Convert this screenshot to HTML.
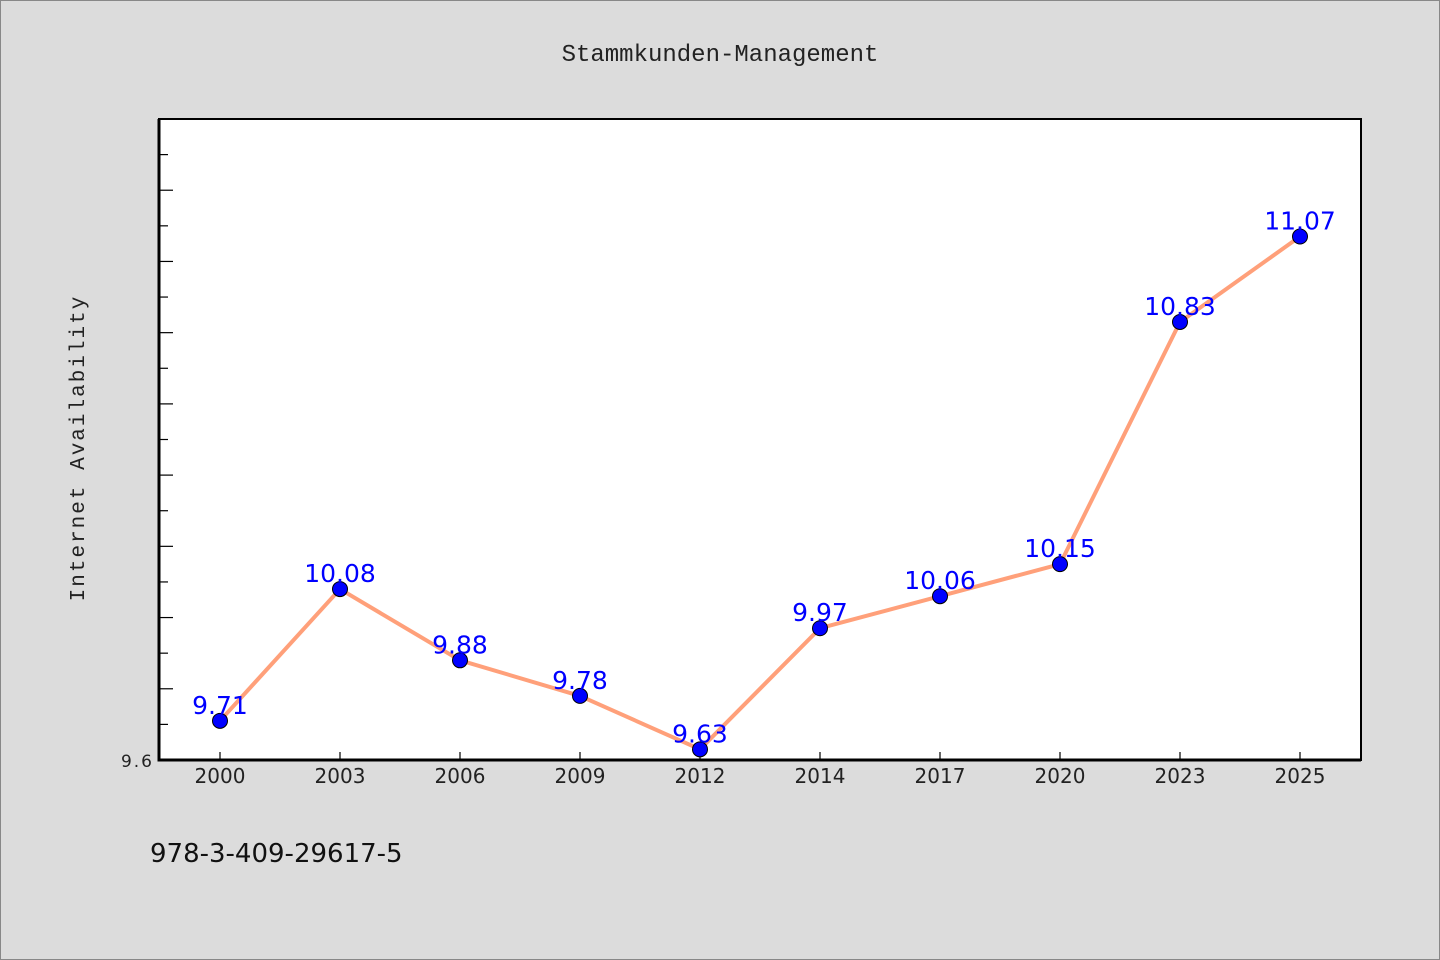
<!DOCTYPE html>
<html><head><meta charset="utf-8"><style>
body{margin:0;background:#dcdcdc;}
svg{display:block}
</style></head><body>
<svg width="1440" height="960" xmlns="http://www.w3.org/2000/svg">
<rect x="0.5" y="0.5" width="1439" height="959" fill="#dcdcdc" stroke="#888"/>
<text x="720" y="61" text-anchor="middle" font-family="Liberation Mono, monospace" font-size="24" fill="#222">Stammkunden-Management</text>
<rect x="159" y="119" width="1202" height="641" fill="#fff" stroke="#000" stroke-width="2"/>
<g id="ticks"></g>
<g id="marks"></g>
<line x1="159" y1="119" x2="159" y2="761.5" stroke="#000" stroke-width="3"/>
<line x1="157.5" y1="760" x2="1361" y2="760" stroke="#000" stroke-width="3"/>
<text x="154" y="767" text-anchor="end" font-family="DejaVu Sans, sans-serif" font-size="17" letter-spacing="2" fill="#222">9.6</text>
<text transform="translate(84,448) rotate(-90)" text-anchor="middle" font-family="Liberation Mono, monospace" font-size="21" letter-spacing="2" fill="#222">Internet Availability</text>
<text x="150" y="862" font-family="DejaVu Sans, sans-serif" font-size="26" fill="#111">978-3-409-29617-5</text>
<script>
const categories=["2000","2003","2006","2009","2012","2014","2017","2020","2023","2025"];
const values=[9.71,10.08,9.88,9.78,9.63,9.97,10.06,10.15,10.83,11.07];
const yMin=9.6, yMax=11.4;
const ns="http://www.w3.org/2000/svg";
const L=159,R=1361,T=119,B=760;
function xPos(i){return 220+i*(1300-220)/(categories.length-1);}
function yPos(v){return B-(v-yMin)/(yMax-yMin)*(B-T);}
function mk(t,a,p){const e=document.createElementNS(ns,t);for(const k in a)e.setAttribute(k,a[k]);p.appendChild(e);return e;}
const tg=document.getElementById('ticks'), mg=document.getElementById('marks');
for(let k=1;k<=17;k++){const v=yMin+k*0.1;const y=yPos(v);
 const l=mk('line',{x1:L,x2:L+(k%2===0?14:9),y1:y,y2:y,stroke:'#000','stroke-width':1.2},tg);
 
 }
categories.forEach((c,i)=>{const x=xPos(i);
 const l=mk('line',{x1:x,x2:x,y1:B,y2:B-8,stroke:'#000','stroke-width':1.2},tg);
 
 
 const t=mk('text',{x:x,y:783,'text-anchor':'middle','font-family':'DejaVu Sans, sans-serif','font-size':20,fill:'#222'},tg);
 t.textContent=c;
 
 });
const pts=values.map((v,i)=>xPos(i)+','+yPos(v)).join(' ');
const pl=mk('polyline',{points:pts,fill:'none',stroke:'#ffa07a','stroke-width':4,'stroke-linejoin':'round'},mg);


values.forEach((v,i)=>{const x=xPos(i),y=yPos(v);
 const c=mk('circle',{cx:x,cy:y,r:7.5,fill:'#0000ff',stroke:'#000','stroke-width':1},mg);
 
 
 const t=mk('text',{x:x,y:y+8-15,'text-anchor':'middle','font-family':'DejaVu Sans, sans-serif','font-size':25,fill:'#0000ff'},mg);
 t.textContent=v.toFixed(2).replace(/0$/,'');
 
 });
</script>
</svg>
</body></html>
